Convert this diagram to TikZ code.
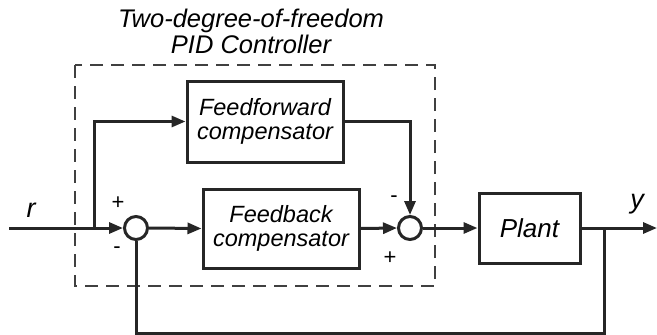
\documentclass[tikz,border=0pt]{standalone}
\usepackage{fontspec}
\setmainfont{Liberation Sans}
\usepackage{tikz}
\usetikzlibrary{arrows.meta,calc}

\begin{document}
\begin{tikzpicture}[
  x=1pt,y=-1pt,
  line_col/.style={draw=black!85,line width=3pt},
  block/.style={line_col,rectangle,inner sep=0pt,align=center,
    font=\fontsize{23.5}{24}\selectfont\itshape},
  sum/.style={line_col,circle,minimum size=23pt,inner sep=0pt},
  sig/.style={line_col,-{Triangle[length=14pt,width=11pt]}},
  wire/.style={line_col},
  sgn/.style={font=\fontsize{22}{22}\selectfont},
  lbl/.style={font=\fontsize{27}{27}\selectfont\itshape}
]
\useasboundingbox (0,0) rectangle (657,335);

% Controller frame
\draw[draw=black!75,line width=2.7pt,dash pattern=on 13pt off 8pt]
  (75,65) rectangle (435,286);
\node[font=\fontsize{25.5}{26}\selectfont\itshape,align=center] (title)
  at (251,31) {Two-degree-of-freedom\\PID Controller};

% Blocks
\node[block,minimum width=156pt,minimum height=81pt] (ff) at (265,121.5)
  {Feedforward\\compensator};
\node[block,minimum width=156pt,minimum height=79pt] (fb) at (281,228.5)
  {Feedback\\compensator};
\node[block,minimum width=101pt,minimum height=70pt,
  font=\fontsize{26}{26}\selectfont\itshape] (plant) at (529.5,228) {Plant};

% Summing junctions
\node[sum] (sum1) at (136,228) {};
\node[sum] (sum2) at (410,228) {};

% Points
\coordinate (in) at (9,228);
\coordinate (split) at (94,228);
\coordinate (tap) at (604,228);
\coordinate (out) at (657,228);

% Signals
\draw[wire] (in) -- (split);
\draw[sig] (split) -- (sum1.west);
\draw[sig] (split) |- (ff.west);
\draw[sig] (sum1.east) -- (fb.west);
\draw[sig] (fb.east) -- (sum2.west);
\draw[sig] (ff.east) -| (sum2.north);
\draw[sig] (sum2.east) -- (plant.west);
\draw[wire] (plant.east) -- (tap);
\draw[sig] (tap) -- (out);
\draw[wire] (tap) -- ++(0,105) -| (sum1.south);

% Labels
\node[lbl] (r_lbl) at (31,210) {r};
\node[lbl] (y_lbl) at (637,204) {y};
\node[sgn] (p1) at (118,203) {+};
\node[sgn] (m1) at (117,250) {-};
\node[sgn] (m2) at (394,199) {-};
\node[sgn] (p2) at (390,258) {+};
\end{tikzpicture}
\end{document}
